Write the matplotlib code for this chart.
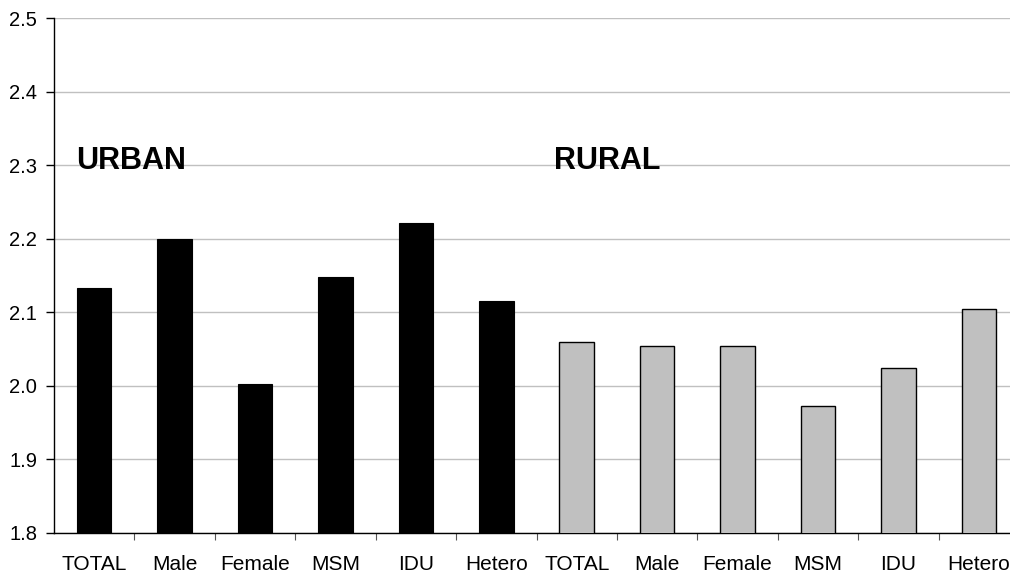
import matplotlib
matplotlib.use("Agg")
import matplotlib.pyplot as plt
import numpy as np

plt.rcParams['font.family'] = ['Liberation Sans', 'DejaVu Sans']

categories = ["TOTAL", "Male", "Female", "MSM", "IDU", "Hetero"]
urban_values = [2.133, 2.199, 2.003, 2.148, 2.221, 2.115]
rural_values = [2.059, 2.054, 2.054, 1.973, 2.024, 2.104]
y_ticks = [1.8, 1.9, 2.0, 2.1, 2.2, 2.3, 2.4, 2.5]


def plot_bar_chart():
    fig = plt.figure(figsize=(10.10, 5.75), dpi=100)
    # right edge runs slightly past the figure, as in the original
    ax = fig.add_axes([54 / 1010, 42 / 575, 965 / 1010, 515 / 575])

    n = len(categories)
    x_urban = np.arange(n)
    x_rural = np.arange(n) + n

    ax.bar(x_urban, urban_values, width=0.43, color="black",
           edgecolor="black", linewidth=0.8, zorder=3)
    ax.bar(x_rural, rural_values, width=0.43, color="#c0c0c0",
           edgecolor="black", linewidth=1.0, zorder=3)

    ax.set_xlim(-0.5, 2 * n - 0.5)
    ax.set_ylim(1.8, 2.5)
    ax.set_yticks(y_ticks)
    ax.set_yticklabels([f"{v:.1f}" for v in y_ticks])

    ax.set_xticks(np.arange(2 * n))
    ax.set_xticklabels(categories + categories)
    ax.set_xticks(np.arange(2 * n) + 0.5, minor=True)
    ax.tick_params(axis="x", which="major", length=0, pad=16, labelsize=15)
    ax.tick_params(axis="x", which="minor", length=5, width=0.8, color="#555555")
    ax.tick_params(axis="y", length=6, width=1, pad=6, labelsize=14.5)

    ax.grid(axis="y", color="#c0c0c0", linewidth=1, zorder=0)
    for side in ["top", "right"]:
        ax.spines[side].set_visible(False)
    ax.spines["left"].set_linewidth(1)
    ax.spines["bottom"].set_linewidth(1)

    ax.text(x_urban[0] - 0.22, 2.305, "URBAN", fontsize=22, fontweight="bold",
            va="center", ha="left")
    ax.text(x_rural[0] - 0.28, 2.305, "RURAL", fontsize=22, fontweight="bold",
            va="center", ha="left")

    fig.savefig("out.png", dpi=100)


def main():
    plot_bar_chart()


if __name__ == "__main__":
    main()
